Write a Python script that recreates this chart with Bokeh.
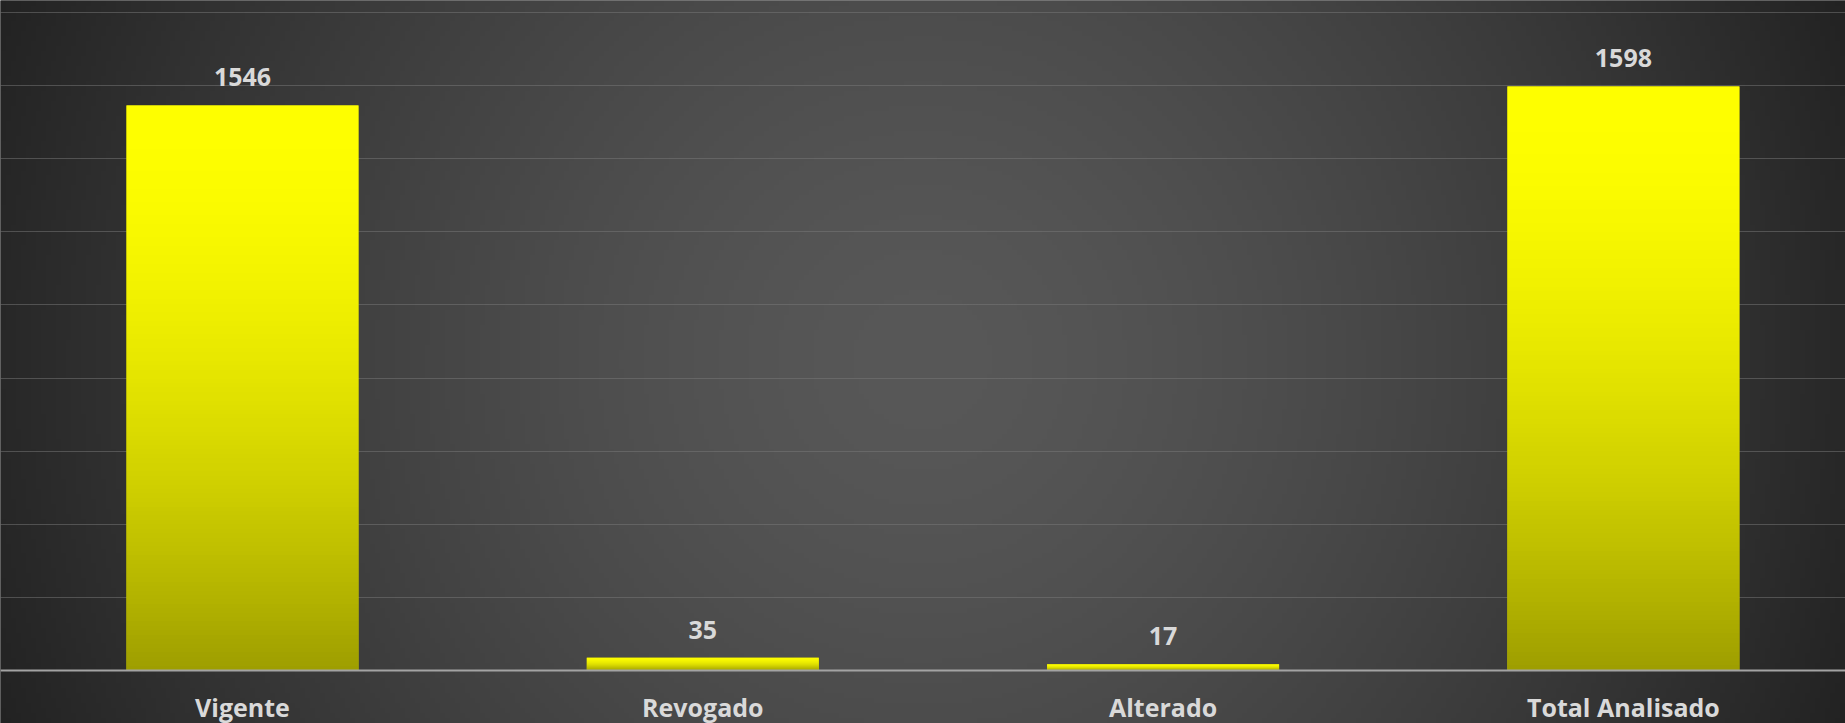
import numpy as np
from bokeh.plotting import figure
from bokeh.models import Range1d, FixedTicker
from bokeh.core.properties import value
from bokeh.embed import file_html
from bokeh.resources import INLINE

# ---- data ----
categories = ["Vigente", "Revogado", "Alterado", "Total Analisado"]
counts = [1546, 35, 17, 1598]
grid_ticks = [200, 400, 600, 800, 1000, 1200, 1400, 1600, 1800]

W, H = 1845, 723
xs = list(range(len(categories)))
BAR_W = 0.504
FONT = "Open Sans"

p = figure(width=W, height=H, output_backend="svg", toolbar_location=None,
           x_range=Range1d(-0.5257, 3.4825), y_range=Range1d(-145, 1833),
           min_border=0, min_border_left=0, min_border_right=0,
           min_border_top=0, min_border_bottom=0)
p.outline_line_color = None
p.background_fill_color = "#3a3a3a"
p.border_fill_color = "#3a3a3a"

# ---- radial background gradient (style only), padded beyond the frame ----
PAD = 20
cell = 5
GW, GH = W + 2 * PAD, H + 2 * PAD
cols, rows = GW // cell + 1, GH // cell + 1
jj, ii = np.mgrid[0:rows, 0:cols]
px = (ii + 0.5) * cell * GW / (cols * cell) - PAD
py = H + PAD - (jj + 0.5) * cell * GH / (rows * cell)
r = np.sqrt((px - 922.0) ** 2 + (py - 360.0) ** 2) / 920.0
v = 88 - 48 * np.minimum(r, 1.12) ** 1.5
bg = np.empty((rows, cols), dtype=np.uint32)
bv = bg.view(dtype=np.uint8).reshape((rows, cols, 4))
bv[..., 0] = v.astype(np.uint8)
bv[..., 1] = v.astype(np.uint8)
bv[..., 2] = v.astype(np.uint8)
bv[..., 3] = 255
xr, yr = p.x_range, p.y_range
ux = (xr.end - xr.start) / W
uy = (yr.end - yr.start) / H
p.image_rgba(image=[bg], x=xr.start - PAD * ux, y=yr.start - PAD * uy,
             dw=(xr.end - xr.start) + 2 * PAD * ux,
             dh=(yr.end - yr.start) + 2 * PAD * uy, level="image")

# ---- bars ----
p.vbar(x=xs, top=counts, width=BAR_W, bottom=0, fill_color="#d4d400",
       line_color=None)

n = 128
t = 1 - (np.arange(n) + 0.5) / n
c = (255 - 97 * t ** 1.8).astype(np.uint8)
grad = np.empty((n, 1), dtype=np.uint32)
gv = grad.view(dtype=np.uint8).reshape((n, 1, 4))
gv[:, 0, 0] = c
gv[:, 0, 1] = c
gv[:, 0, 2] = 0
gv[:, 0, 3] = 255
p.image_rgba(image=[grad] * len(xs), x=[x - BAR_W / 2 for x in xs],
             y=[0] * len(xs), dw=[BAR_W] * len(xs), dh=counts)

# ---- value labels ----
p.text(x=xs, y=counts, text=[str(c_) for c_ in counts], y_offset=-28,
       text_align="center", text_baseline="alphabetic",
       text_font=value(FONT), text_font_style="bold",
       text_font_size="25px", text_color="#d9d9d9")

# ---- axes / grid ----
p.yaxis.visible = False
ax = p.xaxis[0]
ax.fixed_location = 0
ax.ticker = FixedTicker(ticks=xs)
ax.major_label_overrides = {i: c_ for i, c_ in zip(xs, categories)}
ax.major_tick_in = 0
ax.major_tick_out = 0
ax.minor_tick_in = 0
ax.minor_tick_out = 0
ax.major_label_standoff = 20
ax.axis_line_color = "#a3a3a3"
ax.axis_line_width = 2
ax.major_label_text_font = FONT
ax.major_label_text_font_style = "bold"
ax.major_label_text_font_size = "25px"
ax.major_label_text_color = "#d9d9d9"

p.xgrid.visible = False
p.ygrid.ticker = FixedTicker(ticks=grid_ticks)
p.ygrid.grid_line_color = "#7a7a7a"
p.ygrid.grid_line_dash = "1 1"
p.ygrid.grid_line_width = 1

open("out.html", "w").write(file_html(p, INLINE))
